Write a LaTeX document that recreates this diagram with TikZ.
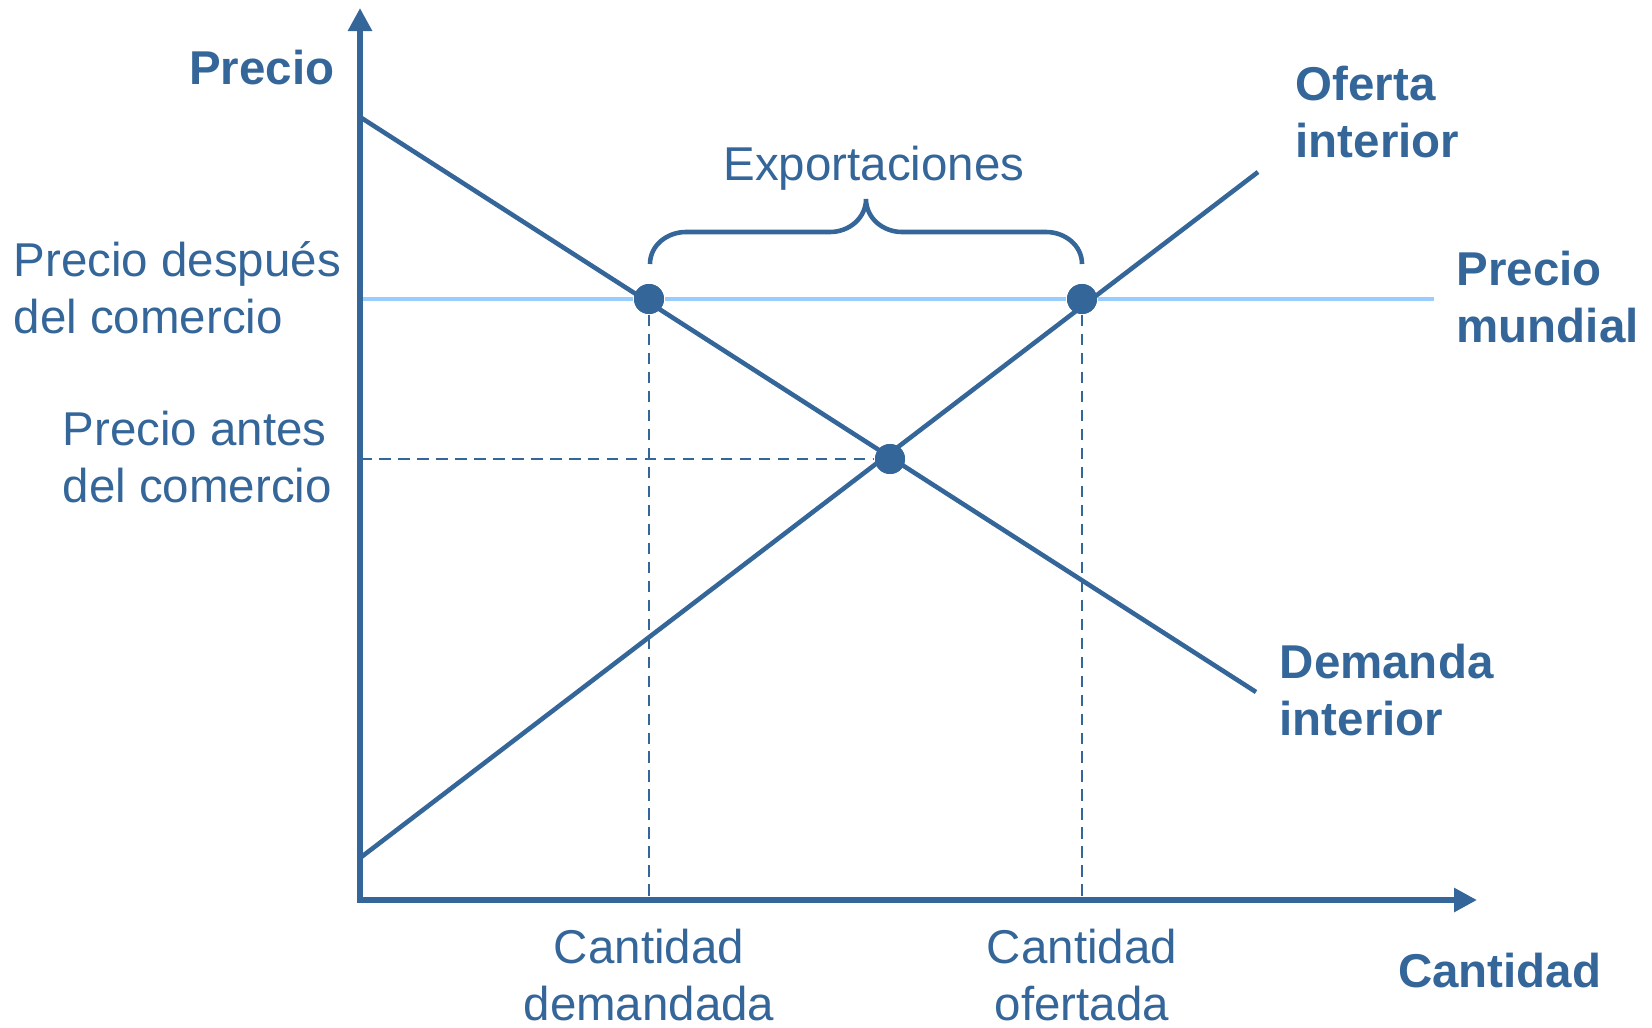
\documentclass[tikz,border=0pt]{standalone}
\usepackage{fontspec}
\setmainfont{Liberation Sans}
\usetikzlibrary{arrows.meta}

\definecolor{econblue}{HTML}{346699}
\definecolor{worldblue}{HTML}{99CCFF}

\tikzset{
    axis/.style={draw=econblue, line width=1.85pt, line join=miter},
    curve/.style={draw=econblue, line width=1.3pt},
    guide/.style={draw=econblue, line width=0.6pt, dash pattern=on 3.3pt off 2.1pt},
    dot/.style={circle, fill=econblue, minimum size=0.3cm, inner sep=0pt},
    lbl/.style={text=econblue, inner sep=0pt, font=\fontsize{13.5}{16.2}\selectfont},
    blbl/.style={lbl, font=\fontsize{13.5}{16.2}\selectfont\bfseries}
}

\begin{document}
\begin{tikzpicture}[x=0.01cm, y=-0.01cm]

    \useasboundingbox (0,0) rectangle (1652,1027);

    \coordinate (O) at (360,900);
    \coordinate (ytip) at (360,8);
    \coordinate (xtip) at (1477,900);

    \coordinate (d0) at (360,117);
    \coordinate (d1) at (1256,692);
    \coordinate (s0) at (360,858);
    \coordinate (s1) at (1258,172);
    \coordinate (w0) at (360,299);
    \coordinate (w1) at (1434,299);

    \node[dot] (pa) at (649,299) {};
    \node[dot] (pb) at (1082,299) {};
    \node[dot] (pe) at (890,459) {};

    \draw[draw=worldblue, line width=1pt] (w0) -- (pa) -- (pb) -- (w1);

    \draw[guide] (O |- pe) -- (pe);
    \draw[guide] (pa) -- (pa |- O);
    \draw[guide] (pb) -- (pb |- O);

    \draw[curve] (d0) -- (d1);
    \draw[curve] (s0) -- (s1);

    \node[dot] at (pa) {};
    \node[dot] at (pb) {};
    \node[dot] at (pe) {};

    \draw[axis, {Triangle[length=0.23cm, width=0.23cm]}-{Triangle[length=0.23cm, width=0.23cm]}] (ytip) -- (O) -- (xtip);

    \draw[curve] (650,264) to[out=90, in=180] (686,232) -- (830,232) to[out=0, in=-90] (866,199)
        to[out=-90, in=180] (902,232) -- (1046,232) to[out=0, in=90] (1082,264);

    \node[blbl, anchor=base east] (lprecio) at (335,84) {Precio};
    \node[blbl, anchor=base east] (lcantidad) at (1602,987) {Cantidad};

    \node[lbl, anchor=base west, align=left] (ldespues) at (13,333) {Precio después\\del comercio};
    \node[lbl, anchor=base west, align=left] (lantes) at (62,502) {Precio antes\\del comercio};

    \node[lbl, anchor=base] (lexport) at (874,180) {Exportaciones};

    \node[blbl, anchor=base west, align=left] (loferta) at (1295,157) {Oferta\\interior};
    \node[blbl, anchor=base west, align=left] (lmundial) at (1456,342) {Precio\\mundial};
    \node[blbl, anchor=base west, align=left] (ldemanda) at (1279,735) {Demanda\\interior};

    \node[lbl, anchor=base, align=center] (lqd) at (pa |- 0,1020) {Cantidad\\demandada};
    \node[lbl, anchor=base, align=center] (lqs) at (pb |- 0,1020) {Cantidad\\ofertada};

\end{tikzpicture}
\end{document}
